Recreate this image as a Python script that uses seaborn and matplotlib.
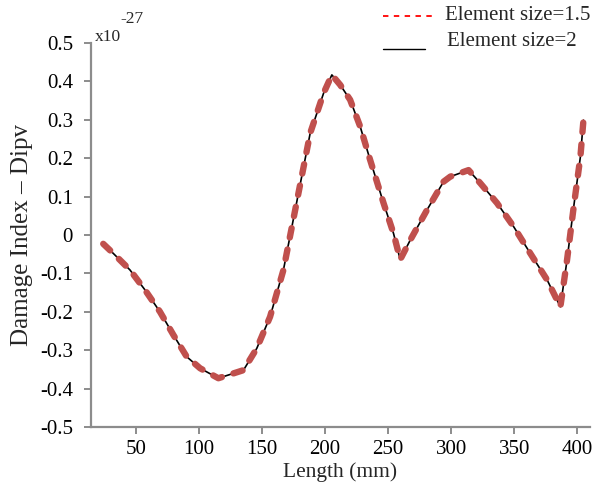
import matplotlib
matplotlib.use("Agg")
import matplotlib.pyplot as plt
import seaborn as sns
import pandas as pd
from matplotlib.lines import Line2D

length_mm = [24.0, 32.0, 45.2, 57.1, 69.0, 79.6, 90.2, 100.8, 115.3, 135.2, 145.8, 156.3,
             166.9, 176.2, 188.1, 198.7, 205.3, 211.9, 219.8, 227.8, 235.7, 246.3, 254.2,
             259.5, 267.5, 280.7, 293.9, 299.2, 313.7, 323.0, 336.3, 349.4, 362.7, 376.0,
             386.5, 391.8, 397.1, 402.4, 404.8]
dipv_size_1_5 = [-0.023, -0.048, -0.091, -0.143, -0.200, -0.260, -0.317, -0.347, -0.373, -0.352,
                 -0.295, -0.213, -0.091, 0.065, 0.265, 0.369, 0.417, 0.391, 0.352, 0.282,
                 0.195, 0.083, 0.004, -0.064, -0.013, 0.065, 0.139, 0.152, 0.169, 0.135,
                 0.083, 0.022, -0.048, -0.117, -0.187, -0.065, 0.074, 0.204, 0.299]
dipv_size_2 = [-0.023, -0.048, -0.091, -0.143, -0.200, -0.260, -0.317, -0.347, -0.373, -0.352,
               -0.295, -0.213, -0.091, 0.065, 0.265, 0.369, 0.417, 0.391, 0.352, 0.282,
               0.195, 0.083, 0.004, -0.064, -0.013, 0.065, 0.139, 0.152, 0.169, 0.135,
               0.083, 0.022, -0.048, -0.117, -0.187, -0.065, 0.074, 0.204, 0.299]
x_ticks = [50, 100, 150, 200, 250, 300, 350, 400]
y_ticks = [-0.5, -0.4, -0.3, -0.2, -0.1, 0, 0.1, 0.2, 0.3, 0.4, 0.5]
y_tick_labels = ["-0.5", "-0.4", "-0.3", "-0.2", "-0.1", "0", "0.1", "0.2", "0.3", "0.4", "0.5"]
series_labels = ["Element size=1.5", "Element size=2"]

sns.set_style("white")
plt.rcParams['font.family'] = ['Liberation Serif', 'DejaVu Serif']
plt.rcParams['xtick.bottom'] = True
plt.rcParams['ytick.left'] = True
plt.rcParams['xtick.major.size'] = 5
plt.rcParams['ytick.major.size'] = 5

df = pd.DataFrame({"x": length_mm, "a": dipv_size_1_5, "b": dipv_size_2})

W, H = 595, 486
fig = plt.figure(figsize=(W / 100, H / 100), dpi=100)
ax = fig.add_axes([91 / W, 1 - 427 / H, 499 / W, 384 / H])

red = "#C0504D"
sns.lineplot(data=df, x="x", y="b", ax=ax, color="black", linewidth=1.2, sort=False)
sns.lineplot(data=df, x="x", y="a", ax=ax, color=red, linewidth=4.6, sort=False,
             linestyle=(0, (1.5, 1.9)), dash_capstyle="round", solid_capstyle="round")

ax.set_xlim(14.3, 410)
ax.set_ylim(-0.5, 0.5)
ax.set_xticks(x_ticks)
ax.set_xticklabels([str(t) for t in x_ticks])
ax.set_yticks(y_ticks)
ax.set_yticklabels(y_tick_labels)

gray = "#8C8C8C"
for s in ["top", "right"]:
    ax.spines[s].set_visible(False)
for s in ["left", "bottom"]:
    ax.spines[s].set_color(gray)
    ax.spines[s].set_linewidth(1.6)
ax.tick_params(axis="both", which="major", direction="out", length=5, width=1.4,
               color=gray, labelsize=15, labelcolor="black", bottom=True, left=True)
ax.tick_params(axis="y", pad=8)
ax.tick_params(axis="x", pad=4)

ax.set_xlabel("Length (mm)", fontsize=15.5, labelpad=3)
ax.set_ylabel("Damage Index \u2013 Dipv", fontsize=18, labelpad=5)
ax.grid(False)

fig.text(95 / W, 1 - 45 / H, "x10", fontsize=12.5, ha="left", va="bottom")
fig.text(120 / W, 1 - 27 / H, "-27", fontsize=12.5, ha="left", va="bottom")

# legend drawn manually above the plot
fig.add_artist(Line2D([383 / W, 433 / W], [1 - 16 / H, 1 - 16 / H], color="red",
                      linestyle=(0, (3, 3)), linewidth=1.3, transform=fig.transFigure))
fig.add_artist(Line2D([383 / W, 425 / W], [1 - 49 / H, 1 - 49 / H], color="black",
                      linewidth=1.0, transform=fig.transFigure))
fig.text(445 / W, 1 - 16 / H, series_labels[0], fontsize=15, ha="left", va="center")
fig.text(447 / W, 1 - 42 / H, series_labels[1], fontsize=15, ha="left", va="center")

fig.savefig("out.png", dpi=100)
